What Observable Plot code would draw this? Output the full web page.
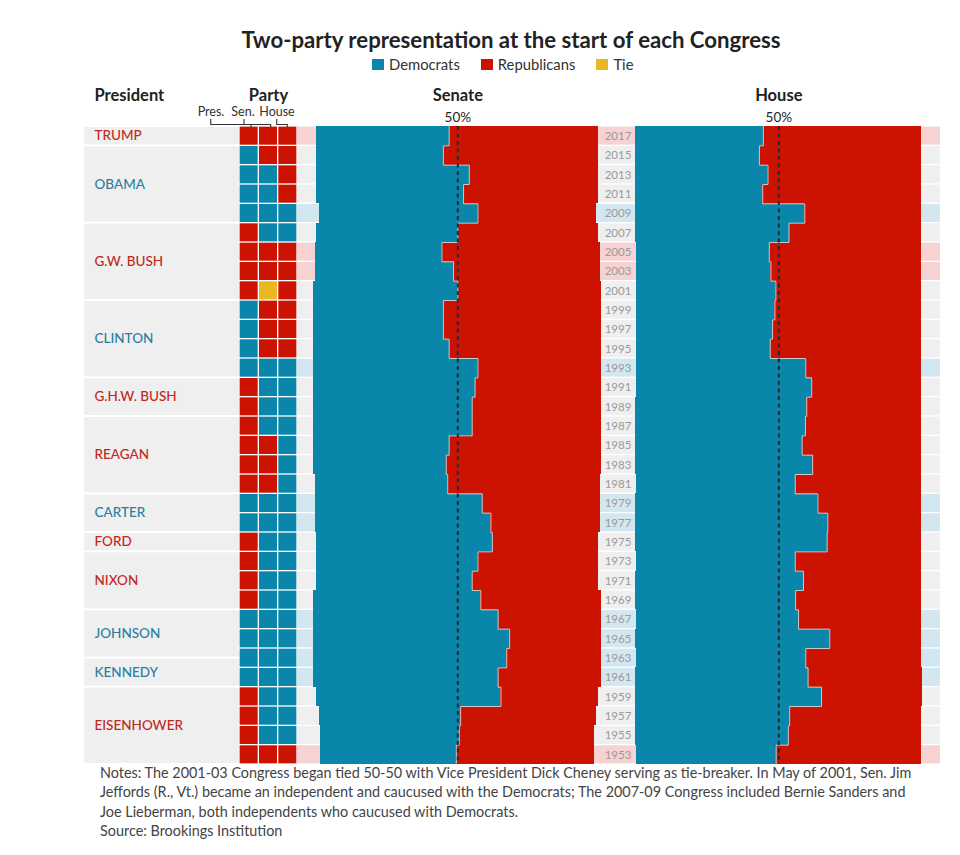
<!DOCTYPE html>
<html>
<head>
<meta charset="utf-8">
<script src="https://cdn.jsdelivr.net/npm/d3@7"></script>
<script src="https://cdn.jsdelivr.net/npm/@observablehq/plot@0.6"></script>
<style>
  html, body { margin: 0; padding: 0; background: #fff; }
  body { font-family: Lato, "Open Sans", sans-serif; }
  #wrap { position: relative; width: 960px; height: 855px; }
  .abs { position: absolute; }
  #title { left: 0; width: 1022px; top: 26px; text-align: center; font-weight: 700; font-size: 22.2px; color: #222; }
  #legend { left: 372px; top: 55px; display: flex; align-items: center; font-size: 14.8px; color: #333; }
  #legend .sw { width: 12px; height: 11px; margin-right: 5px; display: inline-block; }
  #legend .it { display: flex; align-items: center; margin-right: 21px; }
  #notes { left: 100px; top: 763px; width: 860px; font-size: 14.4px; line-height: 19.4px; color: #444; }
</style>
</head>
<body>
<div id="wrap">
  <div id="title" class="abs">Two-party representation at the start of each Congress</div>
  <div id="legend" class="abs"></div>
  <div id="notes" class="abs">Notes: The 2001-03 Congress began tied 50-50 with Vice President Dick Cheney serving as tie-breaker. In May of 2001, Sen. Jim<br>Jeffords (R., Vt.) became an independent and caucused with the Democrats; The 2007-09 Congress included Bernie Sanders and<br>Joe Lieberman, both independents who caucused with Democrats.<br>Source: Brookings Institution</div>
</div>
<script>
// ---------------- DATA ----------------
const years = [2017, 2015, 2013, 2011, 2009, 2007, 2005, 2003, 2001, 1999, 1997, 1995, 1993, 1991, 1989, 1987, 1985, 1983, 1981, 1979, 1977, 1975, 1973, 1971, 1969, 1967, 1965, 1963, 1961, 1959, 1957, 1955, 1953];
const presParty  = ["R","D","D","D","D","R","R","R","R","D","D","D","D","R","R","R","R","R","R","D","D","R","R","R","R","D","D","D","D","R","R","R","R"];
const senParty   = ["R","R","D","D","D","D","R","R","T","R","R","R","D","D","D","D","R","R","R","D","D","D","D","D","D","D","D","D","D","D","D","D","R"];
const houseParty = ["R","R","R","R","D","D","R","R","R","R","R","R","D","D","D","D","D","D","D","D","D","D","D","D","D","D","D","D","D","D","D","D","R"];
const senateDem = [46, 44, 53, 51, 55, 49, 44, 48, 50, 45, 45, 47, 57, 56, 55, 55, 47, 46, 46, 58, 61, 61, 56, 54, 58, 64, 68, 67, 64, 64, 49, 48, 47];
const senateRep = [52, 54, 45, 47, 41, 49, 55, 51, 50, 55, 55, 53, 43, 44, 45, 45, 53, 54, 53, 41, 38, 37, 42, 44, 42, 36, 32, 33, 36, 34, 47, 47, 48];
const houseDem  = [194, 188, 201, 193, 257, 233, 202, 205, 212, 211, 207, 204, 258, 267, 260, 258, 253, 269, 242, 277, 292, 291, 242, 255, 243, 247, 295, 258, 263, 283, 234, 232, 213];
const houseRep  = [241, 247, 234, 242, 178, 202, 231, 229, 221, 223, 226, 230, 176, 167, 175, 177, 182, 166, 192, 158, 143, 144, 192, 180, 192, 187, 140, 176, 174, 153, 201, 203, 221];
const senateSeats = 100;
const houseSeats = 435;

const presidents = ["TRUMP", "OBAMA", "G.W. BUSH", "CLINTON", "G.H.W. BUSH", "REAGAN", "CARTER", "FORD", "NIXON", "JOHNSON", "KENNEDY", "EISENHOWER"];
const presStart  = [2017, 2009, 2001, 1993, 1989, 1981, 1977, 1975, 1969, 1964, 1961, 1953];
const presEnd    = [2019, 2017, 2009, 2001, 1993, 1989, 1981, 1977, 1975, 1969, 1964, 1961];
const presOfParty = ["R", "D", "R", "D", "R", "R", "D", "R", "R", "D", "D", "R"];

const partyColumns = ["Pres.", "Sen.", "House"];
const legendLabels = ["Democrats", "Republicans", "Tie"];
const legendKeys = ["D", "R", "T"];

// ---------------- STYLE ----------------
const fillOf = {D: "#0b86ab", R: "#cc1200", T: "#e9b720"};
const textOf = {D: "#2b7ea2", R: "#c1281c"};
const bgOf = {D: "#d2e7f0", R: "#f6d2d2", N: "#efefef"};
const FONT = "Lato, 'Open Sans', sans-serif";
const TOP = 84, MT = 42, H = 680;

// ---------------- TABLES ----------------
const rows = years.map((year, i) => ({
  year, pres: presParty[i], sen: senParty[i], house: houseParty[i],
  sd: senateDem[i], sr: senateRep[i], hd: houseDem[i], hr: houseRep[i]
}));
rows.forEach(r => {
  r.bg = (r.pres === "R" && r.sen === "R" && r.house === "R") ? bgOf.R
       : (r.pres === "D" && r.sen === "D" && r.house === "D") ? bgOf.D : bgOf.N;
});
const pres = presidents.map((name, i) => ({name, y1: presStart[i], y2: presEnd[i], party: presOfParty[i]}));

const wrap = document.getElementById("wrap");
function place(svg, left, top) {
  svg.style.position = "absolute";
  svg.style.left = left + "px";
  svg.style.top = top + "px";
  wrap.appendChild(svg);
}
const yOpt = {domain: [1953, 2019], axis: null};
const common = {height: H, marginTop: MT, marginBottom: 0, marginLeft: 0, marginRight: 0,
  style: {fontFamily: FONT, overflow: "visible", background: "transparent"}, color: {type: "identity"}};
const header = (txt, opts) => Plot.text([txt], {frameAnchor: "top", lineAnchor: "middle", dy: -31, text: d => d,
  fontWeight: "bold", fontSize: 16.5, fill: "#222", ...opts});

// Legend (HTML)
const leg = document.getElementById("legend");
legendLabels.forEach((lab, i) => {
  const it = document.createElement("div"); it.className = "it";
  it.innerHTML = `<span class="sw" style="background:${fillOf[legendKeys[i]]}"></span>${lab}`;
  leg.appendChild(it);
});

// ---------------- PRESIDENT PANEL ----------------
place(Plot.plot({
  ...common, width: 155,
  x: {domain: [0, 1], axis: null}, y: yOpt,
  marks: [
    Plot.rect(pres, {y1: "y1", y2: "y2", fill: "#efefef", insetTop: 1, insetBottom: 1}),
    Plot.text(pres, {y: d => (d.y1 + d.y2) / 2, frameAnchor: "left", dx: 10, text: "name",
      fill: d => textOf[d.party], fontSize: 13.5, textAnchor: "start", fontWeight: 500}),
    header("President", {frameAnchor: "top-left", dx: 10, textAnchor: "start"})
  ]
}), 84, TOP);

// ---------------- PARTY GRID ----------------
const cells = rows.flatMap(r => [r.pres, r.sen, r.house].map((p, c) => ({col: c, year: r.year, party: p})));
place(Plot.plot({
  ...common, width: 58,
  x: {domain: [0, partyColumns.length], axis: null}, y: yOpt,
  marks: [
    Plot.rect(cells, {x1: "col", x2: d => d.col + 1, y1: "year", y2: d => d.year + 2,
      fill: d => fillOf[d.party], inset: 0.65}),
    header("Party", {})
  ]
}), 239, TOP);

// Bracket labels for party columns (annotation)
const ns = "http://www.w3.org/2000/svg";
const br = document.createElementNS(ns, "svg");
br.setAttribute("width", 110); br.setAttribute("height", 30);
br.style.position = "absolute"; br.style.left = "190px"; br.style.top = "100px"; br.style.overflow = "visible";
const labX = [21, 53, 87];
const brk = [[20.7, 61], [54, 80.7], [86.7, 97.3]];
partyColumns.forEach((lab, i) => {
  const t = document.createElementNS(ns, "text");
  t.setAttribute("x", labX[i]); t.setAttribute("y", 16);
  t.setAttribute("text-anchor", "middle");
  t.setAttribute("font-family", FONT); t.setAttribute("font-size", "12.5"); t.setAttribute("fill", "#333");
  t.textContent = lab; br.appendChild(t);
  const p = document.createElementNS(ns, "path");
  p.setAttribute("d", `M${brk[i][0]},19 V24.5 H${brk[i][1]} V27`);
  p.setAttribute("fill", "none"); p.setAttribute("stroke", "#333"); p.setAttribute("stroke-width", "1.1");
  br.appendChild(p);
});

// ---------------- CHAMBER PANELS ----------------
function chamber(dem, rep, seats, domain, width, title) {
  const mid = seats / 2;
  const bars = rows.flatMap(r => {
    const d = dem(r), rp = rep(r), left = mid - (d + rp) / 2;
    return [{y: r.year, x1: left, x2: left + d, p: "D"}, {y: r.year, x1: left + d, x2: left + d + rp, p: "R"}];
  });
  const edge = rows.flatMap(r => {
    const d = dem(r), rp = rep(r), b = mid - (d + rp) / 2 + d;
    return [{x: b, y: r.year + 2}, {x: b, y: r.year}];
  });
  return Plot.plot({
    ...common, width,
    x: {domain, axis: null}, y: yOpt,
    marks: [
      Plot.rect(rows, {y1: "year", y2: d => d.year + 2, fill: "bg", insetTop: 0.6, insetBottom: 0.7}),
      Plot.rect(bars, {x1: "x1", x2: "x2", y1: "y", y2: d => d.y + 2, fill: d => fillOf[d.p], shapeRendering: "crispEdges"}),
      Plot.line(edge, {x: "x", y: "y", stroke: "#c9c9c9", strokeWidth: 1}),
      Plot.ruleX([mid], {stroke: "#1d2b36", strokeWidth: 2, strokeDasharray: "4,3.5"}),
      header(title, {x: mid}),
      Plot.text(["50%"], {x: mid, frameAnchor: "top", lineAnchor: "middle", dy: -9, text: d => d, fontSize: 13.5, fill: "#222"})
    ]
  });
}
place(chamber(r => r.sd, r => r.sr, senateSeats, [-5.66, 99.9], 304, "Senate"), 297, TOP);
place(chamber(r => r.hd, r => r.hr, houseSeats, [-2.0, 463.4], 306, "House"), 634, TOP);

// ---------------- YEAR LABELS ----------------
place(Plot.plot({
  ...common, width: 33,
  x: {domain: [0, 1], axis: null}, y: yOpt,
  marks: [
    Plot.rect(rows, {y1: "year", y2: d => d.year + 2, fill: "bg", insetTop: 0.6, insetBottom: 0.7}),
    Plot.text(rows, {y: d => d.year + 1, frameAnchor: "middle", text: d => String(d.year), fill: "#9a9a9a", fontSize: 11.5})
  ]
}), 601, TOP);

wrap.appendChild(br);
</script>
</body>
</html>
